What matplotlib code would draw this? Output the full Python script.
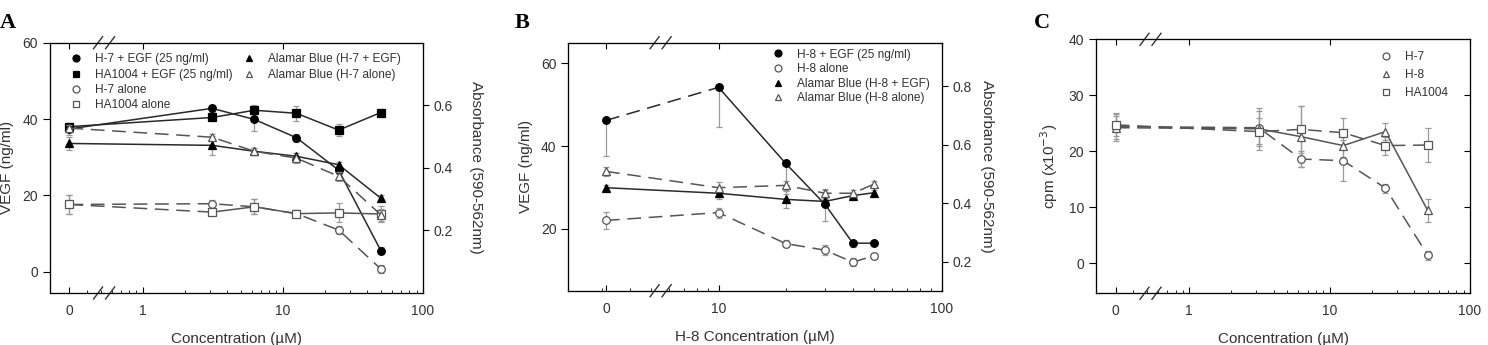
import numpy as np
import matplotlib.pyplot as plt
from matplotlib.lines import Line2D

plt.rcParams['font.family'] = ['Liberation Sans', 'DejaVu Sans']
plt.rcParams['text.color'] = '#333333'
plt.rcParams['axes.labelcolor'] = '#333333'
plt.rcParams['xtick.labelcolor'] = '#333333'
plt.rcParams['ytick.labelcolor'] = '#333333'

# ---------------- data ----------------
# panel A / C: concentrations (uM), 0 drawn left of the axis break
conc_ac = np.array([0, 3.125, 6.25, 12.5, 25, 50])
conc_b = np.array([0, 10, 20, 30, 40, 50])

# Panel A, VEGF (ng/ml)
a_h7_egf = [37.4, 42.8, 39.9, 35.1, 26.6, 5.5]
a_h7_egf_err = [1.5, 1.0, 3.0, 1.0, 1.0, 1.0]
a_ha_egf = [38.0, 40.4, 42.3, 41.5, 37.1, 41.7]
a_ha_egf_err = [1.0, 1.0, 1.5, 2.0, 1.5, 1.0]
a_h7_alone = [17.6, 17.8, 17.0, 15.2, 10.9, 0.7]
a_h7_alone_err = [2.5, 1.0, 2.0, 1.0, 1.0, 1.0]
a_ha_alone = [17.6, 15.6, 17.0, 15.2, 15.4, 15.1]
a_ha_alone_err = [2.5, 1.0, 2.0, 1.0, 2.5, 2.0]
# Panel A, absorbance
a_ab_egf = [0.478, 0.472, 0.453, 0.437, 0.410, 0.303]
a_ab_egf_err = [0.02, 0.03, 0.01, 0.01, 0.01, 0.01]
a_ab_alone = [0.527, 0.498, 0.453, 0.431, 0.373, 0.250]
a_ab_alone_err = [0.01, 0.01, 0.01, 0.015, 0.015, 0.02]

# Panel B, VEGF (ng/ml)
b_h8_egf = [46.2, 54.2, 35.8, 25.9, 16.5, 16.5]
b_h8_egf_lo = [8.5, 9.7, 7.3, 4.0, 1.0, 0.5]
b_h8_egf_hi = [0.0, 0.0, 0.0, 3.5, 0.0, 0.0]
b_h8_alone = [22.0, 23.9, 16.4, 14.8, 11.9, 13.5]
b_h8_alone_err = [2.0, 1.2, 0.8, 1.2, 1.0, 0.6]
# Panel B, absorbance
b_ab_egf = [0.453, 0.434, 0.413, 0.406, 0.426, 0.436]
b_ab_egf_err = [0.01, 0.02, 0.03, 0.01, 0.01, 0.01]
b_ab_alone = [0.509, 0.453, 0.461, 0.434, 0.434, 0.466]
b_ab_alone_err = [0.015, 0.02, 0.015, 0.015, 0.01, 0.01]

# Panel C, cpm (x10^-3)
c_h7 = [24.4, 24.2, 18.6, 18.3, 13.4, 1.4]
c_h7_err = [2.5, 3.0, 1.5, 3.7, 0.8, 0.8]
c_h8 = [24.2, 24.0, 22.6, 21.0, 23.5, 9.4]
c_h8_err = [2.0, 3.7, 5.5, 2.0, 1.5, 2.0]
c_ha = [24.7, 23.5, 23.9, 23.3, 21.0, 21.1]
c_ha_err = [2.0, 2.5, 4.2, 2.6, 1.6, 3.0]

ZERO_AC = 0.30   # where "0" sits on the log axis (A, C)
ZERO_B = 3.13    # same for B
BREAK_AC = 0.53
BREAK_B = 5.5

LINE = '#2a2a2a'
OPEN = '#555555'
ERR = '#9a9a9a'
DASH = (0, (9, 5))
LEG_FS = 8.6


def xpos(conc, zero):
    return np.where(conc == 0, zero, conc)


def series(ax, x, y, err, marker, filled, ls, first_ls=None):
    ax.errorbar(x, y, yerr=err, fmt='none', ecolor=ERR, elinewidth=0.9,
                capsize=2, capthick=0.9, zorder=2)
    color = LINE if filled else OPEN
    if first_ls is not None:
        ax.plot(x[:2], y[:2], linestyle=first_ls, color=color, lw=1.1, zorder=3)
        ax.plot(x[1:], y[1:], linestyle=ls, color=color, lw=1.1, zorder=3)
        ls = 'none'
    ax.plot(x, y, linestyle=ls, color=color, lw=1.1,
            marker=marker, ms=5.5 if marker != '^' else 6,
            mfc='black' if filled else 'white',
            mec='black' if filled else OPEN, mew=0.9, zorder=3)


def handle(marker, filled):
    return Line2D([], [], linestyle='none', marker=marker, ms=5,
                  mfc='black' if filled else 'white',
                  mec='black' if filled else OPEN, mew=0.9)


def style_axes(ax, xlim, xticks, xlabels, brk):
    ax.set_xscale('log')
    ax.set_xlim(*xlim)
    ax.set_xticks(xticks)
    ax.set_xticklabels(xlabels)
    ax.tick_params(axis='x', which='both', direction='in', top=True, labelsize=10)
    ax.tick_params(axis='x', which='major', length=4, pad=8)
    ax.tick_params(axis='x', which='minor', length=2, top=False)
    ax.tick_params(axis='y', direction='out', length=5, labelsize=10)
    for s in ax.spines.values():
        s.set_linewidth(0.9)
        s.set_color('#333333')
    # axis-break slashes, sized in pixels
    lo, hi = np.log10(xlim[0]), np.log10(xlim[1])
    fx = (np.log10(brk) - lo) / (hi - lo)
    w = ax.bbox.width
    h = ax.bbox.height
    for yb in (0.0, 1.0):
        for dx in (-6.0, 6.0):
            cx = fx + dx / w
            ax.plot([cx - 4.5 / w, cx + 4.5 / w], [yb - 6.0 / h, yb + 6.0 / h],
                    transform=ax.transAxes, color='#333333', lw=1.0, clip_on=False)


fig = plt.figure(figsize=(14.88, 3.45), dpi=100)

# ---------------- panel A ----------------
axA = fig.add_axes([0.0336, 0.1507, 0.2507, 0.7255])
xa = xpos(conc_ac, ZERO_AC)
series(axA, xa, a_h7_egf, a_h7_egf_err, 'o', True, '-')
series(axA, xa, a_ha_egf, a_ha_egf_err, 's', True, '-')
series(axA, xa, a_h7_alone, a_h7_alone_err, 'o', False, DASH)
series(axA, xa, a_ha_alone, a_ha_alone_err, 's', False, '-', first_ls=DASH)
axA.set_ylim(-5.6, 60)
axA.set_yticks([0, 20, 40, 60])
axA.set_ylabel('VEGF (ng/ml)', fontsize=11, labelpad=6)
style_axes(axA, (0.218, 100), [ZERO_AC, 1, 10, 100], ['0', '1', '10', '100'], BREAK_AC)
axA.set_xlabel('Concentration (µM)', fontsize=11, labelpad=10)
axA2 = axA.twinx()
series(axA2, xa, a_ab_egf, a_ab_egf_err, '^', True, '-')
series(axA2, xa, a_ab_alone, a_ab_alone_err, '^', False, DASH)
axA2.set_ylim(0, 0.8)
axA2.set_yticks([0.2, 0.4, 0.6])
axA2.set_yticklabels(['0.2', '0.4', '0.6'])
axA2.tick_params(axis='y', direction='out', length=4, labelsize=10)
axA2.set_ylabel('Absorbance (590-562nm)', fontsize=11, rotation=270, labelpad=22)
blank = Line2D([], [], linestyle='none')
axA2.legend([handle('o', True), handle('s', True), handle('o', False), handle('s', False),
             handle('^', True), handle('^', False), blank, blank],
            ['H-7 + EGF (25 ng/ml)', 'HA1004 + EGF (25 ng/ml)', 'H-7 alone', 'HA1004 alone',
             'Alamar Blue (H-7 + EGF)', 'Alamar Blue (H-7 alone)', '', ''],
            ncol=2, loc='upper left', bbox_to_anchor=(0.03, 1.0), frameon=False,
            fontsize=LEG_FS, handlelength=0.6, handletextpad=1.3, columnspacing=1.1,
            labelspacing=0.28)

# ---------------- panel B ----------------
axB = fig.add_axes([0.3819, 0.1574, 0.2509, 0.7188])
xb = xpos(conc_b, ZERO_B)
series(axB, xb, b_h8_egf, [b_h8_egf_lo, b_h8_egf_hi], 'o', True, '-', first_ls=DASH)
series(axB, xb, b_h8_alone, b_h8_alone_err, 'o', False, DASH)
axB.set_ylim(5, 65)
axB.set_yticks([20, 40, 60])
axB.set_ylabel('VEGF (ng/ml)', fontsize=11, labelpad=6)
style_axes(axB, (2.12, 100), [ZERO_B, 10, 100], ['0', '10', '100'], BREAK_B)
axB.set_xlabel('H-8 Concentration (µM)', fontsize=11, labelpad=10)
axB2 = axB.twinx()
series(axB2, xb, b_ab_egf, b_ab_egf_err, '^', True, '-')
series(axB2, xb, b_ab_alone, b_ab_alone_err, '^', False, DASH)
axB2.set_ylim(0.1, 0.95)
axB2.set_yticks([0.2, 0.4, 0.6, 0.8])
axB2.set_yticklabels(['0.2', '0.4', '0.6', '0.8'])
axB2.tick_params(axis='y', direction='out', length=4, labelsize=10)
axB2.set_ylabel('Absorbance (590-562nm)', fontsize=11, rotation=270, labelpad=16)
axB2.legend([handle('o', True), handle('o', False), handle('^', True), handle('^', False)],
            ['H-8 + EGF (25 ng/ml)', 'H-8 alone', 'Alamar Blue (H-8 + EGF)',
             'Alamar Blue (H-8 alone)'],
            loc='upper left', bbox_to_anchor=(0.523, 1.02), frameon=False,
            fontsize=LEG_FS, handlelength=0.6, handletextpad=1.3, labelspacing=0.22)

# ---------------- panel C ----------------
axC = fig.add_axes([0.7366, 0.1499, 0.2513, 0.7362])
xc = xpos(conc_ac, ZERO_AC)
series(axC, xc, c_h7, c_h7_err, 'o', False, DASH)
series(axC, xc, c_h8, c_h8_err, '^', False, '-', first_ls=DASH)
series(axC, xc, c_ha, c_ha_err, 's', False, DASH)
axC.set_ylim(-5.4, 40)
axC.set_yticks([0, 10, 20, 30, 40])
axC.set_ylabel('cpm (x10$^{-3}$)', fontsize=11, labelpad=6)
style_axes(axC, (0.217, 100), [ZERO_AC, 1, 10, 100], ['0', '1', '10', '100'], BREAK_AC)
axC.set_xlabel('Concentration (µM)', fontsize=11, labelpad=10)
axC2 = axC.twinx()
axC2.set_ylim(-5.4, 40)
axC2.set_yticks([0, 10, 20, 30])
axC2.tick_params(axis='y', direction='in', length=4, labelright=False)
axC.legend([handle('o', False), handle('^', False), handle('s', False)],
           ['H-7', 'H-8', 'HA1004'],
           loc='upper left', bbox_to_anchor=(0.737, 0.995), frameon=False,
           fontsize=LEG_FS, handlelength=0.6, handletextpad=1.3, labelspacing=0.5)

# panel letters
for x, letter in [(0.0, 'A'), (0.346, 'B'), (0.695, 'C')]:
    fig.text(x, 0.92, letter, fontsize=16, fontweight='bold', family='Liberation Serif',
             color='black')

fig.savefig('out.png', dpi=100)
